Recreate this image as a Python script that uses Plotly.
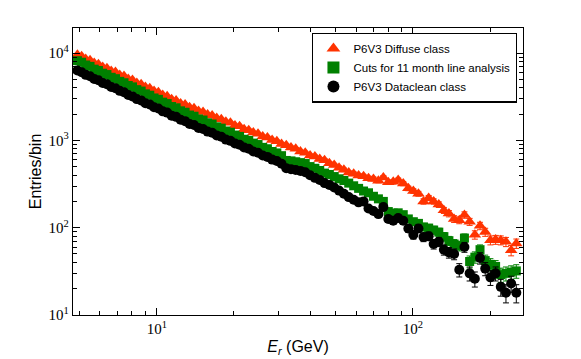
import numpy as np
import plotly.graph_objects as go

# bin centres (GeV)
energy = [4.90, 5.09, 5.28, 5.49, 5.70, 5.92, 6.15, 6.39, 6.64, 6.90,
          7.17, 7.45, 7.74, 8.04, 8.36, 8.69, 9.03, 9.39, 9.76, 10.15,
          10.55, 10.98, 11.43, 11.90, 12.39, 12.90, 13.43, 13.98, 14.56, 15.16,
          15.79, 16.45, 17.14, 17.86, 18.61, 19.39, 20.20, 21.05, 21.93, 22.86,
          23.82, 24.85, 25.92, 27.04, 28.21, 29.43, 30.70, 32.03, 33.42, 34.87,
          36.38, 37.99, 39.67, 41.43, 43.27, 45.19, 47.19, 49.29, 51.48, 53.77,
          56.16, 58.71, 61.38, 64.17, 67.09, 70.14, 73.33, 76.66, 80.15, 83.79,
          87.60, 91.68, 95.96, 100.4, 105.1, 110.0, 115.2, 120.5, 126.2, 132.1,
          138.2, 144.8, 151.7, 158.9, 166.5, 174.5, 182.8, 191.5, 200.7, 210.3,
          220.3, 230.8, 241.8, 253.3]

diffuse = [9550, 9180, 8540, 8250, 7680, 7420, 6910, 6720, 6240, 6050,
           5620, 5450, 5060, 4910, 4550, 4400, 4090, 3960, 3680, 3560,
           3310, 3200, 2950, 2870, 2650, 2570, 2390, 2330, 2170, 2120,
           1980, 1930, 1800, 1750, 1630, 1590, 1480, 1450, 1340, 1310,
           1230, 1190, 1110, 1080, 1010, 975, 910, 880, 826, 800,
           745, 722, 670, 652, 612, 592, 548, 522, 487, 460,
           428, 415, 396, 388, 369, 362, 345, 376, 331, 335,
           351, 320, 282, 263, 245, 200, 219, 200, 184, 158,
           145, 126, 122, 140, 117, 83, 105, 89, 72, 73,
           72, 69, 55, 66]

cuts11 = [8180, 7850, 7300, 7040, 6540, 6310, 5880, 5670, 5280, 5090,
          4740, 4570, 4250, 4100, 3810, 3670, 3410, 3290, 3060, 2950,
          2740, 2640, 2440, 2360, 2180, 2100, 1950, 1890, 1760, 1710,
          1590, 1540, 1430, 1380, 1280, 1240, 1150, 1110, 1030, 1000,
          930, 896, 832, 802, 746, 718, 668, 589, 582, 569,
          556, 543, 501, 479, 452, 422, 407, 385, 363, 347,
          324, 302, 282, 263, 251, 229, 214, 200, 153, 147,
          148, 141, 126, 117, 112, 102, 99, 94, 89, 79,
          71, 65, 62, 76, 41, 46, 56, 42, 38, 36,
          29, 30, 31, 32]

dataclean = [6310, 6040, 5630, 5430, 5060, 4890, 4550, 4400, 4090, 3960,
             3690, 3560, 3310, 3190, 2970, 2870, 2660, 2580, 2400, 2320,
             2150, 2080, 1920, 1860, 1720, 1660, 1540, 1500, 1390, 1350,
             1260, 1220, 1140, 1100, 1020, 987, 920, 890, 830, 802,
             746, 721, 672, 647, 602, 581, 541, 479, 468, 457,
             447, 432, 398, 372, 351, 324, 309, 288, 266, 245,
             224, 209, 195, 200, 166, 155, 143, 172, 126, 120,
             129, 120, 98, 83, 98, 78, 80, 65, 69, 56,
             52, 50, 33, 60, 30, 26, 45, 34, 27, 30,
             21, 18, 23, 18]

series = [
    ("P6V3 Diffuse class", diffuse, "#ff3300", "triangle-up", 11),
    ("Cuts for 11 month line analysis", cuts11, "#008000", "square", 9),
    ("P6V3 Dataclean class", dataclean, "black", "circle", 10),
]

fig = go.Figure()
for name, counts, col, sym, size in series:
    counts = np.array(counts, dtype=float)
    fig.add_trace(go.Scatter(
        x=energy, y=counts, mode="markers", name=name,
        marker=dict(symbol=sym, size=size, color=col, line=dict(width=0)),
        error_y=dict(type="data", array=np.sqrt(counts), color=col,
                     thickness=1, width=3),
    ))

# page body has an 8px margin, so the figure is drawn a bit smaller
axis_font = dict(family="Liberation Serif", size=15, color="black")
fig.update_layout(
    width=573, height=351,
    margin=dict(l=65, r=58, t=20, b=44, autoexpand=False),
    paper_bgcolor="white", plot_bgcolor="white",
    font=dict(family="Liberation Sans", size=12, color="black"),
    xaxis=dict(
        type="log", range=[np.log10(4.71), np.log10(269)], automargin=False,
        showline=True, linecolor="black", linewidth=1.3, mirror="ticks",
        ticks="inside", ticklen=7, tickcolor="black",
        tickvals=[10, 100], ticktext=["10<sup>1</sup>", "10<sup>2</sup>"],
        tickfont=axis_font, showgrid=False, zeroline=False,
        minor=dict(ticks="inside", ticklen=4, tickcolor="black",
                   tickvals=[5, 6, 7, 8, 9, 20, 30, 40, 50, 60, 70, 80, 90, 200],
                   showgrid=False),
        title=dict(text="<i>E</i><sub><i>r</i></sub> (GeV)",
                   font=dict(family="Liberation Sans", size=16), standoff=4),
    ),
    yaxis=dict(
        type="log", range=[1, 4.287], automargin=False,
        showline=True, linecolor="black", linewidth=1.3, mirror="ticks",
        ticks="inside", ticklen=7, tickcolor="black",
        tickvals=[10, 100, 1000, 10000],
        ticktext=["10<sup>1</sup>", "10<sup>2</sup>", "10<sup>3</sup>", "10<sup>4</sup>"],
        tickfont=axis_font, showgrid=False, zeroline=False,
        minor=dict(ticks="inside", ticklen=4, tickcolor="black",
                   tickvals=[20, 30, 40, 50, 60, 70, 80, 90,
                             200, 300, 400, 500, 600, 700, 800, 900,
                             2000, 3000, 4000, 5000, 6000, 7000, 8000, 9000],
                   showgrid=False),
        title=dict(text="Entries/bin",
                   font=dict(family="Liberation Sans", size=16), standoff=2),
    ),
    legend=dict(
        x=0.987, y=0.984, xanchor="right", yanchor="top",
        bordercolor="black", borderwidth=1.3, bgcolor="white",
        font=dict(family="Liberation Sans", size=11.5),
        tracegroupgap=0, itemsizing="constant",
    ),
)

fig.write_html("out.html")
